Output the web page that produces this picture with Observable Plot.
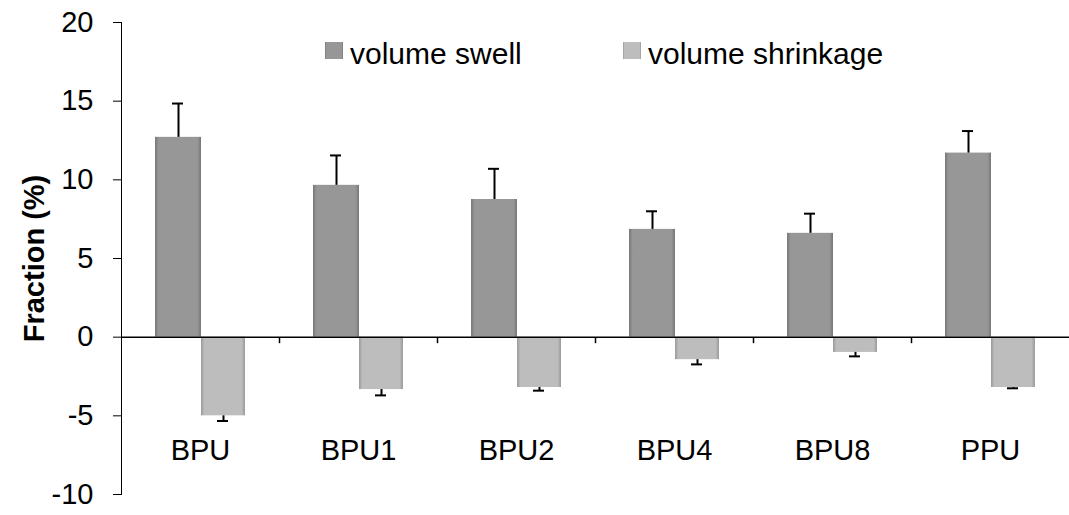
<!DOCTYPE html>
<html>
<head>
<meta charset="utf-8">
<script src="https://cdn.jsdelivr.net/npm/d3@7"></script>
<script src="https://cdn.jsdelivr.net/npm/@observablehq/plot@0.6"></script>
<style>
  body { margin: 0; background: #fff; }
  #chart { position: relative; width: 1069px; height: 515px; }
  g[aria-label="y-axis label"] text { font-weight: bold; }
</style>
</head>
<body>
<div id="chart"></div>
<script>
const categories = ["BPU", "BPU1", "BPU2", "BPU4", "BPU8", "PPU"];
const swell      = [12.7, 9.65, 8.75, 6.85, 6.6, 11.7];
const swellErr   = [2.15, 1.9, 1.95, 1.15, 1.25, 1.4];
const shrink     = [-5.0, -3.33, -3.2, -1.43, -0.97, -3.2];
const shrinkErr  = [0.33, 0.37, 0.2, 0.3, 0.25, 0.05];
const yTicks     = [-10, -5, 0, 5, 10, 15, 20];
const seriesNames = ["volume swell", "volume shrinkage"];

const rows = categories.map((c, i) => ({
  cat: c, swell: swell[i], swellErr: swellErr[i], shrink: shrink[i], shrinkErr: shrinkErr[i]
}));

const tickSym = {draw(ctx) { ctx.moveTo(0, 0); ctx.lineTo(0, 6); }};

const chart = Plot.plot({
  width: 1069,
  height: 515,
  marginLeft: 121,
  marginRight: 0,
  marginTop: 22,
  marginBottom: 21,
  style: {fontFamily: "'Liberation Sans', Arial, sans-serif", fontSize: "29px", color: "#000", background: "#fff"},
  x: {domain: categories, padding: 0, tickSize: 0, tickPadding: -55, label: null},
  y: {domain: [-10, 20], ticks: yTicks, tickFormat: d => String(d), tickSize: 8, tickPadding: 20,
      line: true, label: "Fraction (%)", labelArrow: "none", labelAnchor: "center", labelOffset: 98},
  marks: [
    Plot.barY(rows, {x: "cat", y: "swell", fill: "url(#gSwell)", insetLeft: 34, insetRight: 78}),
    Plot.barY(rows, {x: "cat", y: "shrink", fill: "url(#gShrink)", insetLeft: 80, insetRight: 34}),
    Plot.ruleX(rows, {x: "cat", y1: "swell", y2: d => d.swell + d.swellErr, dx: -22, stroke: "#000", strokeWidth: 2}),
    Plot.tickY(rows, {x: "cat", y: d => d.swell + d.swellErr, insetLeft: 51, insetRight: 96, stroke: "#000", strokeWidth: 2}),
    Plot.ruleX(rows, {x: "cat", y1: "shrink", y2: d => d.shrink - d.shrinkErr, dx: 23, stroke: "#000", strokeWidth: 2}),
    Plot.tickY(rows, {x: "cat", y: d => d.shrink - d.shrinkErr, insetLeft: 96, insetRight: 51, stroke: "#000", strokeWidth: 2}),
    Plot.ruleY([0], {stroke: "#000", strokeWidth: 1.5}),
    Plot.dot(categories.slice(1), {x: d => d, y: () => 0, dx: -79, symbol: tickSym, stroke: "#000", strokeWidth: 1.5, fill: "none"})
  ]
});

// gradient definitions for the bevelled bar look
const svg = d3.select(chart);
const defs = svg.insert("defs", ":first-child");
function grad(id, edge, mid) {
  const g = defs.append("linearGradient").attr("id", id).attr("x1", 0).attr("x2", 1).attr("y1", 0).attr("y2", 0);
  [[0, edge], [0.08, mid], [0.92, mid], [1, edge]].forEach(([o, c]) =>
    g.append("stop").attr("offset", o).attr("stop-color", c));
}
grad("gSwell", "#777", "#979797");
grad("gShrink", "#9a9a9a", "#bdbdbd");

// legend
const leg = svg.append("g").attr("font-size", 30).attr("text-anchor", "start")
  .attr("font-family", "'Liberation Sans', Arial, sans-serif");
const legendItems = [
  {name: seriesNames[0], fill: "url(#gSwell)", x: 325},
  {name: seriesNames[1], fill: "url(#gShrink)", x: 623}
];
legendItems.forEach(it => {
  leg.append("rect").attr("x", it.x).attr("y", 42).attr("width", 18).attr("height", 17).attr("fill", it.fill);
  leg.append("text").attr("x", it.x + 25).attr("y", 64).attr("fill", "#000").text(it.name);
});

document.getElementById("chart").appendChild(chart);
</script>
</body>
</html>
